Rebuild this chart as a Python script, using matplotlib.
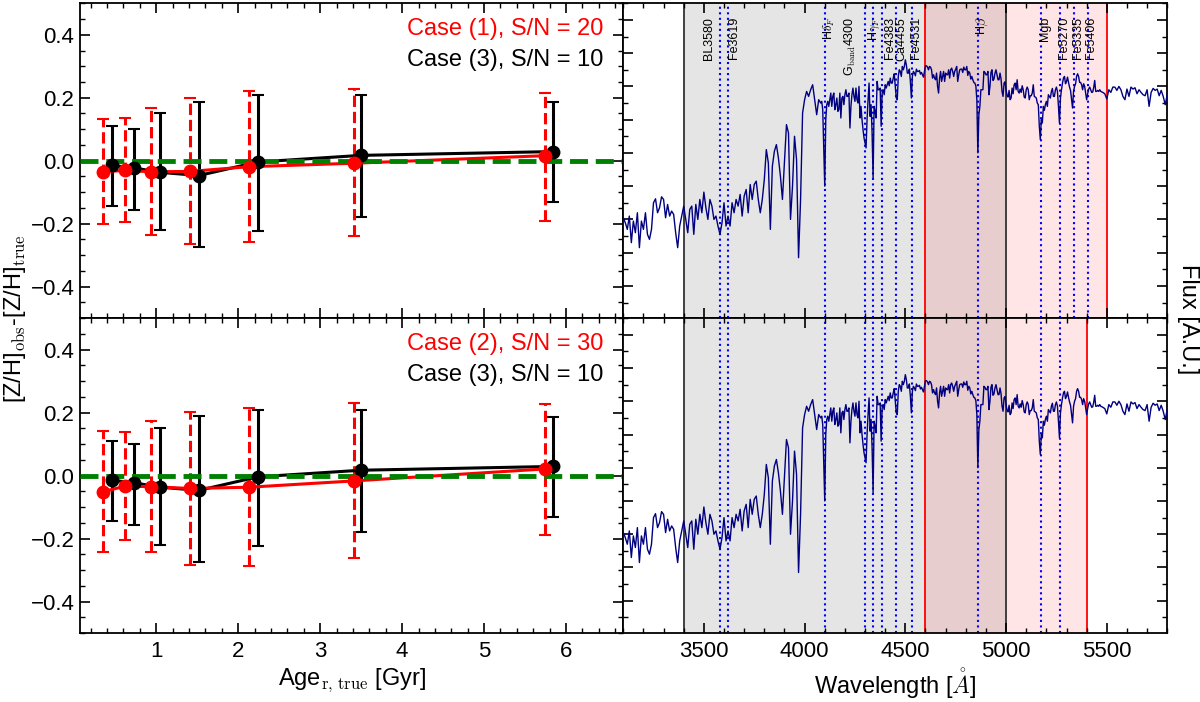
import numpy as np
import matplotlib
matplotlib.use("Agg")
import matplotlib.pyplot as plt
from matplotlib.ticker import MultipleLocator

# -----------------------------
# Data
# -----------------------------
# Case (1), S/N = 20  (top panel, red)
age_c1 = [0.35, 0.62, 0.94, 1.41, 2.13, 3.41, 5.74]
zh_c1 = [-0.035, -0.031, -0.035, -0.034, -0.019, -0.008, 0.016]
zh_c1_hi = [0.132, 0.137, 0.166, 0.200, 0.222, 0.229, 0.216]
zh_c1_lo = [-0.200, -0.196, -0.236, -0.266, -0.257, -0.240, -0.192]

# Case (2), S/N = 30  (bottom panel, red)
age_c2 = [0.35, 0.62, 0.94, 1.41, 2.13, 3.41, 5.74]
zh_c2 = [-0.051, -0.034, -0.035, -0.041, -0.037, -0.017, 0.021]
zh_c2_hi = [0.143, 0.139, 0.173, 0.202, 0.215, 0.229, 0.226]
zh_c2_lo = [-0.243, -0.205, -0.244, -0.283, -0.288, -0.262, -0.188]

# Case (3), S/N = 10  (both panels, black)
age_c3 = [0.46, 0.73, 1.05, 1.52, 2.24, 3.50, 5.84]
zh_c3 = [-0.015, -0.023, -0.037, -0.047, -0.004, 0.017, 0.029]
zh_c3_hi = [0.111, 0.101, 0.151, 0.188, 0.209, 0.208, 0.187]
zh_c3_lo = [-0.145, -0.158, -0.220, -0.275, -0.224, -0.179, -0.130]

# spectrum (arbitrary units), read in three pieces
wave_blue = np.arange(3100, 4071, 10)
flux_blue = [
    40.5, 39.0, 37.0, 41.0, 33.0, 39.5, 36.0, 42.0, 31.5, 39.5,
    37.0, 42.0, 35.5, 34.0, 37.0, 45.0, 46.2, 42.0, 43.5, 46.8,
    46.0, 40.5, 44.5, 41.0, 42.5, 41.5, 36.0, 31.5, 38.0, 41.0,
    44.0, 40.0, 36.0, 43.0, 44.0, 35.5, 44.5, 40.0, 46.0, 42.0,
    48.2, 43.5, 40.0, 46.0, 44.0, 40.0, 41.0, 38.0, 35.5, 39.0,
    45.0, 38.0, 41.0, 38.0, 45.0, 42.0, 46.0, 44.0, 47.5, 41.0,
    47.0, 49.0, 42.0, 50.5, 46.0, 50.5, 51.5, 46.0, 42.0, 46.0,
    52.0, 61.0, 57.0, 37.0, 56.0, 60.5, 62.5, 58.5, 53.0, 46.0,
    57.0, 68.5, 66.0, 40.0, 50.0, 65.0, 58.0, 28.5, 46.0, 72.0,
    76.0, 78.5, 77.0, 79.0, 80.5, 76.0, 71.5, 76.0,
]
wave_mid = np.arange(4080, 5466, 5)
flux_mid = [
    75.0, 75.5, 73.0, 61.0, 50.0, 70.0, 74.5, 75.5, 74.0, 76.0,
    78.0, 74.0, 77.0, 78.0, 73.0, 74.5, 76.5, 72.5, 73.0, 78.0,
    70.5, 76.5, 77.0, 74.5, 77.5, 79.0, 77.0, 77.0, 78.0, 67.5,
    74.0, 77.5, 79.5, 77.0, 75.5, 79.5, 76.0, 75.0, 80.0, 70.5,
    74.0, 70.0, 67.0, 64.5, 63.0, 61.5, 70.0, 76.0, 81.0, 71.0,
    74.5, 66.0, 52.5, 74.0, 72.5, 70.5, 81.5, 79.0, 79.0, 79.5,
    68.0, 78.0, 79.0, 77.5, 80.5, 79.5, 80.5, 81.5, 80.2, 82.5,
    81.0, 81.0, 82.5, 83.8, 80.0, 76.5, 76.0, 83.0, 85.0, 84.5,
    83.0, 86.0, 85.0, 86.0, 88.0, 86.5, 84.0, 84.0, 85.2, 81.5,
    76.5, 83.0, 84.5, 84.0, 83.2, 85.2, 84.5, 84.5, 84.8, 83.7,
    84.2, 83.5, 82.8, 84.5, 86.2, 86.2, 85.8, 85.0, 86.0, 85.8,
    85.0, 82.5, 83.5, 82.5, 82.0, 84.0, 80.0, 78.0, 82.5, 84.5,
    81.5, 83.0, 84.5, 81.5, 84.0, 83.5, 83.5, 85.0, 82.5, 85.0,
    85.5, 84.5, 83.0, 84.5, 85.2, 86.0, 81.5, 83.5,
    85.0, 85.2, 85.2, 84.2, 85.8, 85.0, 85.0, 86.0, 83.3, 84.5,
    84.0, 82.2, 83.0, 82.0, 81.2, 81.0, 80.2, 76.0, 60.0, 71.5,
    74.0, 79.0, 79.0, 79.0, 84.5, 84.2, 83.5, 83.5, 84.5, 77.5,
    80.0, 84.2, 85.0, 81.8, 82.2, 84.0, 85.0, 83.5, 82.0, 82.0,
    84.0, 82.3, 78.5, 77.0, 81.0, 81.4, 79.0, 77.2, 76.8, 78.8,
    76.0, 76.5, 79.5, 77.8, 80.5, 81.0, 79.0, 82.0, 78.5, 78.0,
    79.2, 78.2, 80.2, 79.0, 76.8, 76.5, 79.0, 79.8, 79.0, 76.0,
    77.2, 77.2, 78.0, 80.5, 77.0, 76.8, 76.5, 75.0, 74.5, 68.0,
    64.0, 70.0, 69.0, 74.0, 72.8, 74.5, 75.5, 74.0, 77.5, 77.0,
    76.5, 78.5, 79.4, 77.0, 77.0, 79.0, 79.8, 78.5, 74.0, 69.0,
    76.5, 79.0, 81.0, 82.5, 83.0, 80.8, 81.5, 82.8, 81.2, 79.8,
    78.8, 76.0, 73.5, 78.5, 80.0, 80.8, 83.0, 83.8, 83.0, 81.2,
    81.2, 80.5, 79.0, 80.8, 80.0, 78.0, 76.0, 77.8, 79.2, 79.8,
    79.0, 78.2, 78.3, 79.7, 81.8, 78.5, 78.5, 78.8, 78.5, 79.0,
]
wave_red = np.arange(5470, 5801, 10)
flux_red = [
    78.5, 78.2, 77.8, 76.2, 79.0, 78.2, 79.8, 79.8, 78.8, 80.0,
    79.0, 77.0, 76.0, 79.2, 77.0, 79.8, 79.2, 79.6, 77.8, 79.0,
    78.2, 77.5, 77.2, 79.0, 74.0, 78.2, 79.4, 78.8, 79.2, 77.2,
    78.8, 77.0, 74.5, 77.5,
]

# absorption indices
index_names = ["BL3580", "Fe3619", r"H$\delta_F$", r"G$_{\rm band}$4300",
               r"H$\gamma_F$", "Fe4383", "Ca4455", "Fe4531", r"H$\beta$",
               "Mgb", "Fe5270", "Fe5335", "Fe5406"]
index_wave = [3580, 3619, 4102, 4300, 4340, 4383, 4455, 4531, 4861,
              5175, 5270, 5335, 5406]

# fitting windows
blue_window = (3400, 5000)
red_window_top = (4600, 5500)
red_window_bot = (4600, 5400)

# -----------------------------
# Style
# -----------------------------
plt.rcParams['font.family'] = ['Liberation Sans', 'DejaVu Sans']
plt.rcParams['mathtext.fontset'] = 'cm'
plt.rcParams['axes.linewidth'] = 1.3

# label offsets (A) relative to each index line
label_dx = [-57, 32, 22, -73, 6, 39, 24, 24, 22, 18, 20, 23, 17]

fig = plt.figure(figsize=(12, 7.02), dpi=100)

ax_lt = fig.add_axes([0.0667, 0.5468, 0.4528, 0.4485])
ax_lb = fig.add_axes([0.0667, 0.0983, 0.4528, 0.4485])
ax_rt = fig.add_axes([0.5194, 0.5468, 0.4533, 0.4485])
ax_rb = fig.add_axes([0.5194, 0.0983, 0.4533, 0.4485])


def style_ticks(ax):
    ax.tick_params(which='both', direction='in', top=True, right=True)
    ax.tick_params(which='major', length=7, width=1.2, labelsize=16)
    ax.tick_params(which='minor', length=3.5, width=1.0)
    ax.tick_params(axis='x', pad=6)
    ax.tick_params(axis='y', pad=4)


def age_panel(ax, x_red, y_red, hi_red, lo_red, text_red):
    y3 = np.array(zh_c3)
    err3 = [y3 - np.array(zh_c3_lo), np.array(zh_c3_hi) - y3]
    ax.errorbar(age_c3, zh_c3, yerr=err3, fmt='-', color='k', lw=2.2,
                elinewidth=2.2, capsize=4, capthick=1.5, zorder=2)

    yr = np.array(y_red)
    errr = [yr - np.array(lo_red), np.array(hi_red) - yr]
    eb = ax.errorbar(x_red, y_red, yerr=errr, fmt='-', color='red', lw=2.2,
                     elinewidth=2.2, capsize=4, capthick=1.5, zorder=2)
    eb[2][0].set_linestyle('--')

    ax.axhline(0, color='green', ls='--', lw=3.5, zorder=3)
    ax.plot(age_c3, zh_c3, 'o', color='k', ms=9, zorder=4)
    ax.plot(x_red, y_red, 'o', color='red', ms=9, zorder=4)

    ax.text(0.963, 0.8996, text_red, color='red', ha='right', va='baseline',
            transform=ax.transAxes, fontsize=17)
    ax.text(0.963, 0.8014, 'Case (3), S/N = 10', color='k', ha='right',
            va='baseline', transform=ax.transAxes, fontsize=17)

    ax.set_xlim(0.07, 6.7)
    ax.set_ylim(-0.5, 0.5)
    ax.xaxis.set_major_locator(MultipleLocator(1))
    ax.xaxis.set_minor_locator(MultipleLocator(0.2))
    ax.yaxis.set_major_locator(MultipleLocator(0.2))
    ax.yaxis.set_minor_locator(MultipleLocator(0.05))
    style_ticks(ax)


age_panel(ax_lt, age_c1, zh_c1, zh_c1_hi, zh_c1_lo, 'Case (1), S/N = 20')
age_panel(ax_lb, age_c2, zh_c2, zh_c2_hi, zh_c2_lo, 'Case (2), S/N = 30')
ax_lt.tick_params(labelbottom=False)
ax_lb.set_xlabel(r'Age$_{\rm r,\,true}$ [Gyr]', fontsize=17, labelpad=3)

wave = np.concatenate([wave_blue, wave_mid, wave_red])
flux = np.concatenate([flux_blue, flux_mid, flux_red])


def spec_panel(ax, red_window, n_lines):
    ax.axvspan(*blue_window, color='k', alpha=0.1, lw=0, zorder=0)
    ax.axvspan(*red_window, color='red', alpha=0.1, lw=0, zorder=0)
    for w in blue_window:
        ax.axvline(w, color='#333333', lw=1.3, zorder=1)
    for w in red_window:
        ax.axvline(w, color='red', lw=1.3, zorder=1)
    for w in index_wave[:n_lines]:
        ax.axvline(w, color='blue', ls=':', lw=1.5, zorder=1)
    ax.plot(wave, flux, color='navy', lw=1.0, zorder=3)

    ax.set_xlim(3100, 5800)
    ax.set_ylim(10.3, 105)
    ax.xaxis.set_major_locator(MultipleLocator(500))
    ax.xaxis.set_minor_locator(MultipleLocator(100))
    ax.yaxis.set_major_locator(MultipleLocator(10))
    ax.yaxis.set_minor_locator(MultipleLocator(5))
    style_ticks(ax)
    ax.tick_params(labelleft=False)


spec_panel(ax_rt, red_window_top, len(index_wave))
spec_panel(ax_rb, red_window_bot, 11)
ax_rt.tick_params(labelbottom=False)
ax_rb.set_xlabel(r'Wavelength [$\mathring{A}$]', fontsize=17, labelpad=3)

for name, w, dx in zip(index_names, index_wave, label_dx):
    ax_rt.text(w + dx, 0.957, name, rotation=90, ha='center', va='top',
               fontsize=9, transform=ax_rt.get_xaxis_transform(), zorder=5)

fig.text(0.0125, 0.5456, r'[Z/H]$_{\rm obs}$-[Z/H]$_{\rm true}$',
         rotation=90, ha='center', va='center', fontsize=17)
fig.text(0.990, 0.5456, 'Flux [A.U.]', rotation=270, ha='center',
         va='center', fontsize=17)

fig.savefig('out.png', dpi=100)
